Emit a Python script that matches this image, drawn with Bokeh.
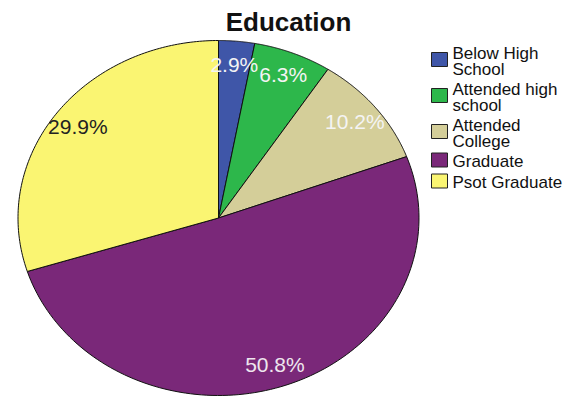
import numpy as np
from bokeh.plotting import figure
from bokeh.models import Range1d, Label, ColumnDataSource
from bokeh.core.properties import value
from bokeh.embed import file_html
from bokeh.resources import INLINE

categories = ["Below High\nSchool", "Attended high\nschool", "Attended\nCollege", "Graduate", "Psot Graduate"]
percents = [2.9, 6.3, 10.2, 50.8, 29.9]
labels = ["2.9%", "6.3%", "10.2%", "50.8%", "29.9%"]
colors = ["#3F56A8", "#2DB74B", "#D4CE99", "#7A2879", "#FAF572"]
label_colors = ["#F4F4F4", "#F4F4F4", "#F4F4F4", "#EEE6EE", "#222222"]

W, H = 574, 396
cx_px, cy_px = 218, 217.5   # pie centre (px, from top)
rx_px, ry_px = 200.5, 177.5

def dx(px):
    return (px - cx_px) / rx_px

def dy(py):
    return (cy_px - py) / ry_px

p = figure(width=W, height=H, output_backend="svg", toolbar_location=None,
           min_border=0, x_axis_type=None, y_axis_type=None)
p.outline_line_color = None
p.grid.visible = False
p.x_range = Range1d(-cx_px / rx_px, (W - cx_px) / rx_px)
p.y_range = Range1d(-(H - cy_px) / ry_px, cy_px / ry_px)

total = sum(percents)
fr = np.cumsum([0] + percents) / total * 2 * np.pi
xs, ys, lx, ly = [], [], [], []
for i in range(len(percents)):
    t = np.linspace(fr[i], fr[i + 1], 120)
    xs.append([0.0] + list(np.sin(t)))
    ys.append([0.0] + list(np.cos(t)))
    m = (fr[i] + fr[i + 1]) / 2
    lx.append(0.87 * np.sin(m))
    ly.append(0.87 * np.cos(m))

src = ColumnDataSource(dict(xs=xs, ys=ys, color=colors))
p.patches("xs", "ys", source=src, fill_color="color", line_color="#111111", line_width=1)

lsrc = ColumnDataSource(dict(x=lx, y=ly, text=labels, c=label_colors))
p.text("x", "y", text="text", source=lsrc, text_color="c", text_align="center",
       text_baseline="middle", text_font_size="21px", text_font=value("Liberation Sans"))

p.add_layout(Label(x=288, y=H - 21, x_units="screen", y_units="screen", text="Education",
                   text_align="center", text_baseline="middle", text_font_size="26px",
                   text_font_style="bold", text_font="Liberation Sans", text_color="#111111"))

# manual legend (screen-pixel layout converted to data units)
line_px, gap_px, top = 15, 6, 43
bx, by, bt, tx, ty = [], [], [], [], []
for cat in categories:
    n = cat.count("\n") + 1
    h = n * line_px
    c = top + h / 2 + 1
    bx.append(dx(439)); by.append(dy(c))
    tx.append(dx(452)); ty.append(dy(top))
    top += h + gap_px
p.rect(bx, by, width=16 / rx_px, height=14 / ry_px, fill_color=colors,
       line_color="#222222", line_width=1)
p.text(tx, ty, text=categories, text_align="left", text_baseline="top",
       text_font_size="17px", text_font=value("Liberation Sans"),
       text_line_height=line_px / 17, text_color="#111111")

open("out.html", "w").write(file_html(p, INLINE))
